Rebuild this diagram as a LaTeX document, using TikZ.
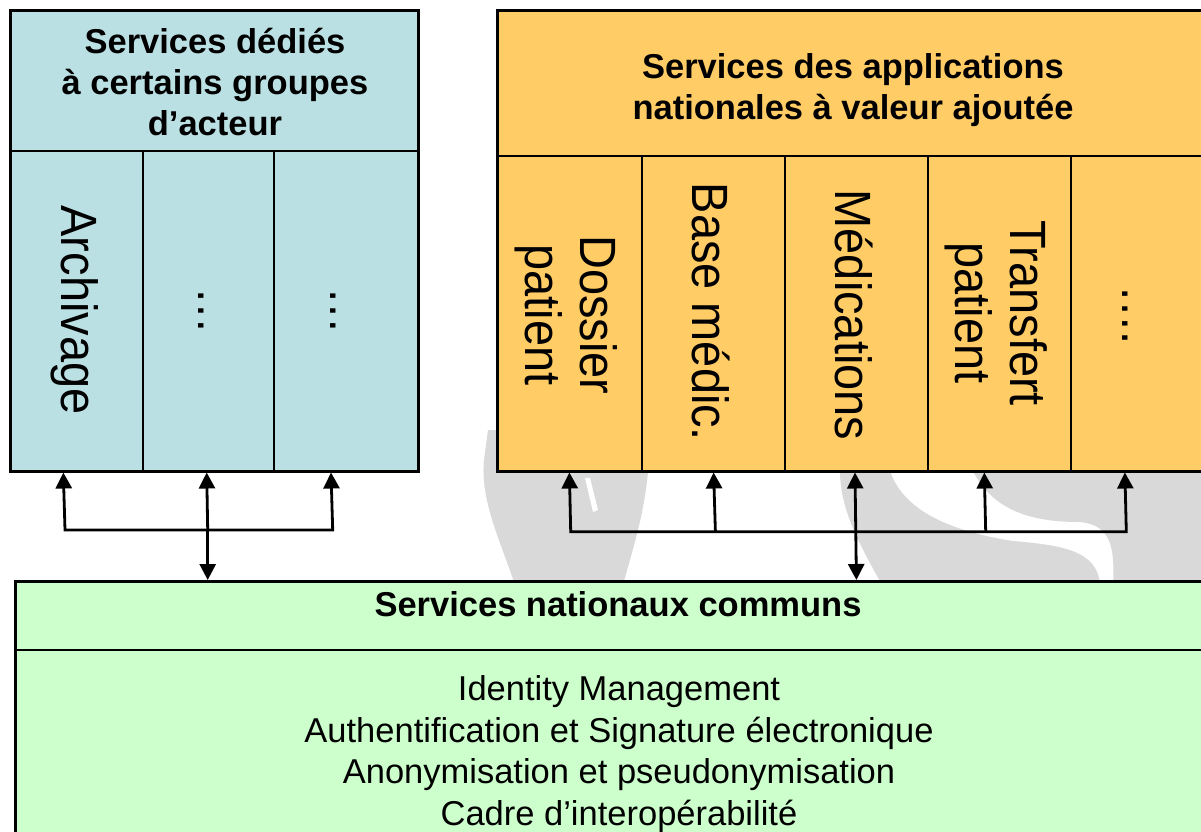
\documentclass[tikz,border=0pt]{standalone}
\usepackage{fontspec}
\setmainfont{Liberation Sans}
\newfontfamily\vfont[FakeStretch=0.92]{Liberation Sans}
\usetikzlibrary{arrows.meta}
\definecolor{lblue}{RGB}{187,224,227}
\definecolor{lorange}{RGB}{255,204,102}
\definecolor{lgreen}{RGB}{204,255,204}
\definecolor{wmgrey}{RGB}{217,217,217}
\begin{document}
\begin{tikzpicture}[x=1pt,y=-1pt,
  >={Triangle[width=16pt,length=16pt]},
  boxfill/.style={inner sep=0pt,anchor=north west,draw=none},
  cell/.style={draw=black,line width=2.2pt,inner sep=0pt,anchor=north west},
  outer/.style={draw=black,line width=2.8pt},
  conn/.style={line width=2.8pt},
  hdr/.style={font=\fontsize{34.5}{41}\selectfont\bfseries,align=center,inner sep=0pt},
  vtxt/.style={font=\vfont\fontsize{51}{55}\selectfont,rotate=-90,align=center,inner sep=0pt},
  ltxt/.style={font=\fontsize{34.5}{41}\selectfont,inner sep=0pt,anchor=base}]
\useasboundingbox (0,0) rectangle (1201,831);
\begin{scope}
\clip (0,0) rectangle (1201,831);
% watermark
\fill[wmgrey] (488,430) -- (650,430) .. controls (650,500) and (635,540) .. (623,585)
  -- (515,585) .. controls (500,540) and (480,500) .. (484,460) -- cycle;
\fill[white] (585,478) -- (590,478) -- (598,510) -- (593,512) -- cycle;
\fill[wmgrey] (838,430) -- (890,430) -- (890,471) .. controls (900,500) and (930,528) .. (1013,541)
  .. controls (1060,545) and (1098,550) .. (1100,585) -- (882,585)
  .. controls (860,545) and (840,510) .. (840,471) -- cycle;
\fill[wmgrey] (973,430) -- (1210,430) -- (1210,585) -- (1113,585)
  .. controls (1115,545) and (1110,525) .. (1080,522)
  .. controls (1040,522) and (995,515) .. (973,471) -- cycle;
% left box
\node[boxfill,fill=lblue,minimum width=408pt,minimum height=461pt] (L) at (10,10) {};
\node[cell,minimum width=408pt,minimum height=140pt] (Lh) at (10,10) {};
\node[cell,minimum width=132pt,minimum height=321pt] (L1) at (10,150) {};
\node[cell,minimum width=131pt,minimum height=321pt] (L2) at (142,150) {};
\node[cell,minimum width=145pt,minimum height=321pt] (L3) at (273,150) {};
\draw[outer] (L.north west) rectangle (L.south east);
% right box
\node[boxfill,fill=lorange,minimum width=716pt,minimum height=461pt] (R) at (497,10) {};
\node[cell,minimum width=716pt,minimum height=145pt] (Rh) at (497,10) {};
\node[cell,minimum width=144pt,minimum height=316pt] (R1) at (497,155) {};
\node[cell,minimum width=143pt,minimum height=316pt] (R2) at (641,155) {};
\node[cell,minimum width=143pt,minimum height=316pt] (R3) at (784,155) {};
\node[cell,minimum width=143pt,minimum height=316pt] (R4) at (927,155) {};
\node[cell,minimum width=143pt,minimum height=316pt] (R5) at (1070,155) {};
\draw[outer] (R.north west) rectangle (R.south east);
% bottom box
\node[boxfill,fill=lgreen,minimum width=1206pt,minimum height=330pt] (B) at (15,581) {};
\node[cell,minimum width=1206pt,minimum height=68pt] (Bh) at (15,581) {};
\node[cell,minimum width=1206pt,minimum height=262pt] (Bl) at (15,649) {};
\draw[outer] (B.north west) rectangle (B.south east);
% header texts
\node[hdr] (Lt) at (215,82) {Services dédiés\\à certains groupes\\d’acteur};
\node[hdr] (Rt) at (853,90) {Services des applications\\nationales à valeur ajoutée};
\node[hdr,anchor=base] (Bt) at (618,616) {Services nationaux communs};
\node[ltxt] (b1) at (619,700) {Identity Management};
\node[ltxt] (b2) at (619,742) {Authentification et Signature électronique};
\node[ltxt] (b3) at (619,783) {Anonymisation et pseudonymisation};
\node[ltxt] (b4) at (619,825) {Cadre d’interopérabilité};
% vertical texts
\node[vtxt] (t1) at (75,310) {Archivage};
\node[vtxt] (t2) at (201,311) {…};
\node[vtxt] (t3) at (333,311) {…};
\node[vtxt] (t4) at (566,315) {Dossier\\patient};
\node[vtxt] (t5) at (711,312) {Base médic.};
\node[vtxt] (t6) at (854,315) {Médications};
\node[vtxt] (t7) at (996,313) {Transfert\\patient};
\node[vtxt] (t8) at (1125,315) {….};
% connector coordinates
\coordinate (la1) at (63.3,472.5);
\coordinate (la2) at (206.7,472.5);
\coordinate (la3) at (331,472.5);
\coordinate (lb1) at (65,530);
\coordinate (lb2) at (207.7,530);
\coordinate (lb3) at (332.7,530);
\coordinate (lc) at (207.7,580);
\coordinate (ra1) at (569.4,472.5);
\coordinate (ra2) at (713.6,472.5);
\coordinate (ra3) at (855,472.5);
\coordinate (ra4) at (984.3,472.5);
\coordinate (ra5) at (1124.9,472.5);
\coordinate (rb1) at (570.7,531.7);
\coordinate (rb2) at (715.4,531.7);
\coordinate (rb4) at (985.7,531.7);
\coordinate (rb5) at (1126.3,531.7);
\coordinate (rc) at (856.4,580);
% connectors
\draw[conn,<->] (la1) -- (lb1) -- (lb3) -- (la3);
\draw[conn,->] (lb2) -- (la2);
\draw[conn,->] (lb2) -- (lc);
\draw[conn,<->] (ra1) -- (rb1) -- (rb5) -- (ra5);
\draw[conn,->] (rb2) -- (ra2);
\draw[conn,->] (rb4) -- (ra4);
\draw[conn,<->] (ra3) -- (rc);
\end{scope}
\end{tikzpicture}
\end{document}
